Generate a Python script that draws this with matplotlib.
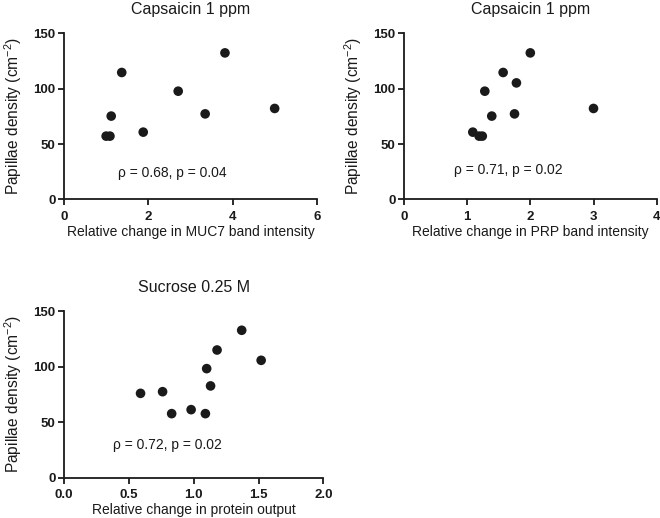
import matplotlib
matplotlib.use("Agg")
import matplotlib.pyplot as plt

plt.rcParams["font.family"] = ["Liberation Sans", "DejaVu Sans"]
plt.rcParams["mathtext.default"] = "regular"

# Panel A: MUC7
muc7_x = [1.00, 1.09, 1.12, 1.37, 1.88, 2.71, 3.35, 3.82, 5.00]
muc7_y = [57.2, 57.2, 75.3, 114.7, 60.8, 97.8, 77.3, 132.4, 82.2]

# Panel B: PRP
prp_x = [1.09, 1.19, 1.24, 1.28, 1.39, 1.57, 1.78, 1.75, 2.00, 3.00]
prp_y = [60.8, 57.2, 57.2, 97.8, 75.3, 114.7, 105.3, 77.3, 132.4, 82.2]

# Panel C: protein output
prot_x = [0.59, 0.76, 0.83, 0.98, 1.09, 1.13, 1.10, 1.18, 1.37, 1.52]
prot_y = [76.0, 77.5, 57.7, 61.3, 57.7, 82.7, 98.3, 115.1, 132.9, 105.8]

panels = [
    dict(x=muc7_x, y=muc7_y, title="Capsaicin 1 ppm",
         xlabel="Relative change in MUC7 band intensity",
         xlim=(0, 6), xticks=[0, 2, 4, 6], xticklabels=["0", "2", "4", "6"],
         note="ρ = 0.68, p = 0.04", note_xy=(1.28, 24),
         rect=[0.097, 0.615, 0.383, 0.3205]),
    dict(x=prp_x, y=prp_y, title="Capsaicin 1 ppm",
         xlabel="Relative change in PRP band intensity",
         xlim=(0, 4), xticks=[0, 1, 2, 3, 4], xticklabels=["0", "1", "2", "3", "4"],
         note="ρ = 0.71, p = 0.02", note_xy=(0.79, 26.5),
         rect=[0.612, 0.615, 0.383, 0.3205]),
    dict(x=prot_x, y=prot_y, title="Sucrose 0.25 M",
         xlabel="Relative change in protein output",
         xlim=(0, 2), xticks=[0, 0.5, 1.0, 1.5, 2.0],
         xticklabels=["0.0", "0.5", "1.0", "1.5", "2.0"],
         note="ρ = 0.72, p = 0.02", note_xy=(0.38, 29.5),
         rect=[0.097, 0.078, 0.393, 0.321]),
]

fig = plt.figure(figsize=(6.6, 5.18), dpi=100)

for p in panels:
    ax = fig.add_axes(p["rect"])
    ax.scatter(p["x"], p["y"], s=48, color="#1a1a1a", edgecolors="none",
               clip_on=False, zorder=3)
    ax.set_xlim(*p["xlim"])
    ax.set_ylim(0, 150)
    ax.set_xticks(p["xticks"])
    ax.set_xticklabels(p["xticklabels"])
    ax.set_yticks([0, 50, 100, 150])
    for side in ("top", "right"):
        ax.spines[side].set_visible(False)
    for side in ("left", "bottom"):
        ax.spines[side].set_linewidth(1.3)
        ax.spines[side].set_color("#1a1a1a")
    ax.tick_params(direction="out", length=4, width=1.3, labelsize=9.5,
                   colors="#1a1a1a", pad=2)
    ax.tick_params(axis="x", pad=4)
    for lbl in ax.get_xticklabels() + ax.get_yticklabels():
        lbl.set_fontweight("bold")
    ax.set_title(p["title"], fontsize=11.5, pad=14, color="#1a1a1a")
    ax.set_xlabel(p["xlabel"], fontsize=10, labelpad=2, color="#1a1a1a")
    ax.set_ylabel("Papillae density (cm$^{-2}$)", fontsize=11.2, labelpad=7,
                  color="#1a1a1a")
    ax.text(p["note_xy"][0], p["note_xy"][1], p["note"], fontsize=10,
            va="center", ha="left", color="#1a1a1a")

fig.savefig("out.png", dpi=100)
